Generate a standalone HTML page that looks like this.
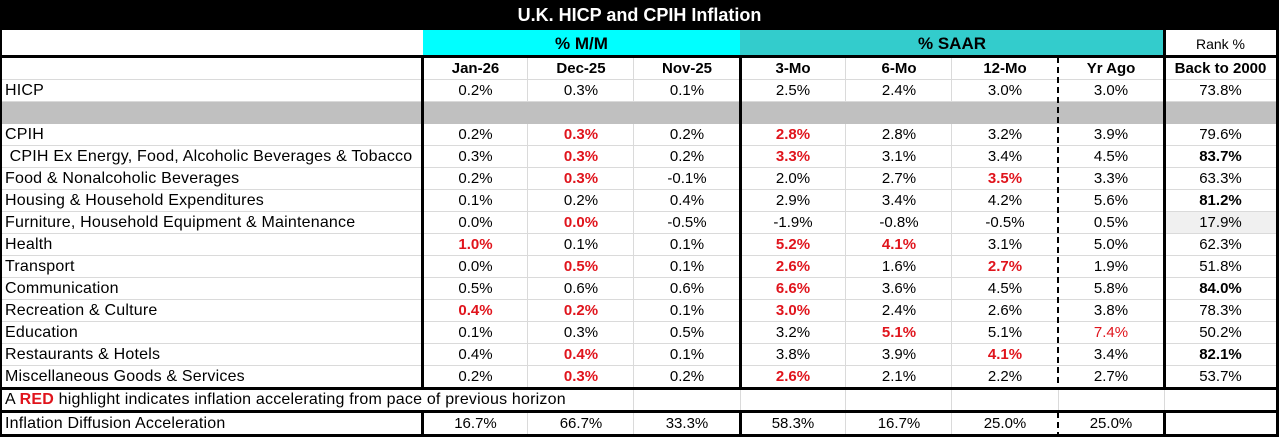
<!DOCTYPE html>
<html><head><meta charset="utf-8"><style>
*{margin:0;padding:0;box-sizing:border-box}
body{width:1279px;height:437px;background:#fff;position:relative;overflow:hidden;font-family:"Liberation Sans",Arial,sans-serif;font-size:15px;color:#000}
.a{position:absolute}
.r{position:absolute;left:0;width:1277px;height:22px;display:grid;grid-template-columns:423px 105px 106px 106px 106px 106px 106px 106px 113px;line-height:22px;text-align:center;border-bottom:1px solid #dadada}
.r>span:first-child{text-align:left;padding-left:5px;white-space:nowrap;font-size:16px;letter-spacing:0.2px}
.b{font-weight:bold}
.red{color:#e0141c;font-weight:bold}
.rn{color:#e0141c}
.v{position:absolute;width:1px;background:#dadada}
.k{position:absolute;background:#000}
</style></head><body>
<div class="a" style="left:0;top:0;width:1279px;height:30px;background:#000"></div>
<div class="a" style="left:0;top:0;width:1279px;height:30px;line-height:31px;text-align:center;color:#fff;font-weight:bold;font-size:18px">U.K. HICP and CPIH Inflation</div>
<div class="a" style="left:423px;top:30px;width:317px;height:26px;background:#00ffff"></div>
<div class="a" style="left:740px;top:30px;width:424px;height:26px;background:#33cccc"></div>
<div class="a b" style="left:423px;top:30px;width:317px;height:26px;line-height:27px;text-align:center;font-size:17px">% M/M</div>
<div class="a b" style="left:740px;top:30px;width:424px;height:26px;line-height:27px;text-align:center;font-size:17px">% SAAR</div>
<div class="a" style="left:1164px;top:30px;width:113px;height:26px;line-height:28px;text-align:center;font-size:14px">Rank %</div>
<div class="a" style="left:1164px;top:212px;width:113px;height:22px;background:#f0f0f0"></div>

<div class="r b" style="top:57px;height:23px;line-height:24px"><span></span><span>Jan-26</span><span>Dec-25</span><span>Nov-25</span><span>3-Mo</span><span>6-Mo</span><span>12-Mo</span><span>Yr Ago</span><span>Back to 2000</span></div>
<div class="r" style="top:80px"><span>HICP</span><span>0.2%</span><span>0.3%</span><span>0.1%</span><span>2.5%</span><span>2.4%</span><span>3.0%</span><span>3.0%</span><span>73.8%</span></div>
<div class="r" style="top:124px"><span>CPIH</span><span>0.2%</span><span class="red">0.3%</span><span>0.2%</span><span class="red">2.8%</span><span>2.8%</span><span>3.2%</span><span>3.9%</span><span>79.6%</span></div>
<div class="r" style="top:146px"><span>&nbsp;CPIH Ex Energy, Food, Alcoholic Beverages &amp; Tobacco</span><span>0.3%</span><span class="red">0.3%</span><span>0.2%</span><span class="red">3.3%</span><span>3.1%</span><span>3.4%</span><span>4.5%</span><span class="b">83.7%</span></div>
<div class="r" style="top:168px"><span>Food &amp; Nonalcoholic Beverages</span><span>0.2%</span><span class="red">0.3%</span><span>-0.1%</span><span>2.0%</span><span>2.7%</span><span class="red">3.5%</span><span>3.3%</span><span>63.3%</span></div>
<div class="r" style="top:190px"><span>Housing &amp; Household Expenditures</span><span>0.1%</span><span>0.2%</span><span>0.4%</span><span>2.9%</span><span>3.4%</span><span>4.2%</span><span>5.6%</span><span class="b">81.2%</span></div>
<div class="r" style="top:212px"><span>Furniture, Household Equipment &amp; Maintenance</span><span>0.0%</span><span class="red">0.0%</span><span>-0.5%</span><span>-1.9%</span><span>-0.8%</span><span>-0.5%</span><span>0.5%</span><span>17.9%</span></div>
<div class="r" style="top:234px"><span>Health</span><span class="red">1.0%</span><span>0.1%</span><span>0.1%</span><span class="red">5.2%</span><span class="red">4.1%</span><span>3.1%</span><span>5.0%</span><span>62.3%</span></div>
<div class="r" style="top:256px"><span>Transport</span><span>0.0%</span><span class="red">0.5%</span><span>0.1%</span><span class="red">2.6%</span><span>1.6%</span><span class="red">2.7%</span><span>1.9%</span><span>51.8%</span></div>
<div class="r" style="top:278px"><span>Communication</span><span>0.5%</span><span>0.6%</span><span>0.6%</span><span class="red">6.6%</span><span>3.6%</span><span>4.5%</span><span>5.8%</span><span class="b">84.0%</span></div>
<div class="r" style="top:300px"><span>Recreation &amp; Culture</span><span class="red">0.4%</span><span class="red">0.2%</span><span>0.1%</span><span class="red">3.0%</span><span>2.4%</span><span>2.6%</span><span>3.8%</span><span>78.3%</span></div>
<div class="r" style="top:322px"><span>Education</span><span>0.1%</span><span>0.3%</span><span>0.5%</span><span>3.2%</span><span class="red">5.1%</span><span>5.1%</span><span class="rn">7.4%</span><span>50.2%</span></div>
<div class="r" style="top:344px"><span>Restaurants &amp; Hotels</span><span>0.4%</span><span class="red">0.4%</span><span>0.1%</span><span>3.8%</span><span>3.9%</span><span class="red">4.1%</span><span>3.4%</span><span class="b">82.1%</span></div>
<div class="r" style="top:366px"><span>Miscellaneous Goods &amp; Services</span><span>0.2%</span><span class="red">0.3%</span><span>0.2%</span><span class="red">2.6%</span><span>2.1%</span><span>2.2%</span><span>2.7%</span><span>53.7%</span></div>
<div class="r" style="top:413px;border-bottom:none"><span>Inflation Diffusion Acceleration</span><span>16.7%</span><span>66.7%</span><span>33.3%</span><span>58.3%</span><span>16.7%</span><span>25.0%</span><span>25.0%</span><span></span></div>

<!-- thin verticals -->
<div class="v" style="left:527px;top:56px;height:381px"></div>
<div class="v" style="left:633px;top:56px;height:381px"></div>
<div class="v" style="left:845px;top:56px;height:381px"></div>
<div class="v" style="left:951px;top:56px;height:381px"></div>
<div class="v" style="left:1058px;top:389px;height:22px"></div>
<div class="v" style="left:1164px;top:389px;height:22px"></div>
<div class="a" style="left:0;top:389px;width:1277px;height:22px;background:#fff"></div>
<div class="v" style="left:633px;top:389px;height:22px"></div>
<div class="v" style="left:740px;top:389px;height:22px"></div>
<div class="v" style="left:845px;top:389px;height:22px"></div>
<div class="v" style="left:951px;top:389px;height:22px"></div>
<div class="v" style="left:1058px;top:389px;height:22px"></div>
<div class="v" style="left:1164px;top:389px;height:22px"></div>
<div class="a" style="left:5px;top:389px;height:21px;line-height:21px;white-space:nowrap;font-size:16px;letter-spacing:0.2px;background:#fff;padding-right:3px">A <span class="red">RED</span> highlight indicates inflation accelerating from pace of previous horizon</div>
<div class="a" style="left:0;top:102px;width:1277px;height:22px;background:#c0c0c0"></div>
<!-- dashed -->
<div class="a" style="left:1057px;top:57px;width:2px;height:331px;background:repeating-linear-gradient(#000 0 6px,transparent 6px 10px)"></div>
<div class="a" style="left:1057px;top:412px;width:2px;height:23px;background:repeating-linear-gradient(#000 0 6px,transparent 6px 10px)"></div>
<!-- thick lines -->
<div class="k" style="left:0;top:0;width:2px;height:437px"></div>
<div class="k" style="left:1276px;top:0;width:3px;height:437px"></div>
<div class="k" style="left:0;top:55px;width:1279px;height:3px"></div>
<div class="k" style="left:0;top:387px;width:1279px;height:3px"></div>
<div class="k" style="left:0;top:410px;width:1279px;height:3px"></div>
<div class="k" style="left:0;top:434px;width:1279px;height:3px"></div>
<div class="k" style="left:421px;top:56px;width:3px;height:333px"></div>
<div class="k" style="left:421px;top:411px;width:3px;height:25px"></div>
<div class="k" style="left:739px;top:56px;width:3px;height:333px"></div>
<div class="k" style="left:739px;top:411px;width:3px;height:25px"></div>
<div class="k" style="left:1163px;top:30px;width:3px;height:359px"></div>
<div class="k" style="left:1163px;top:411px;width:3px;height:25px"></div>
</body></html>
